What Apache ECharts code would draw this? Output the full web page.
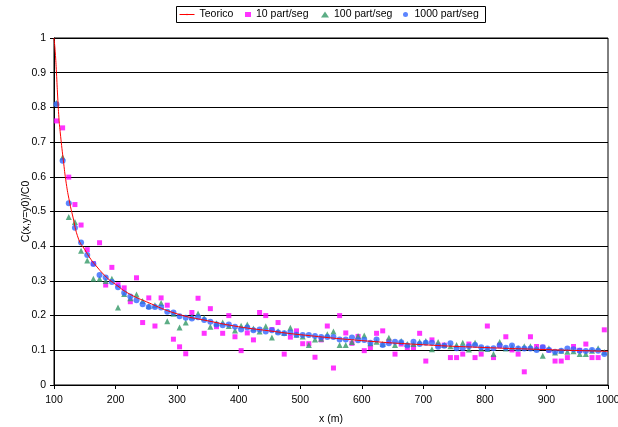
<!DOCTYPE html>
<html>
<head>
<meta charset="utf-8">
<script src="https://cdn.jsdelivr.net/npm/echarts@6/dist/echarts.min.js"></script>
<style>
html,body{margin:0;padding:0;background:#fff;}
#chart{width:618px;height:427px;}
</style>
</head>
<body>
<div id="chart"></div>
<script>
// Teorico curve
var teoX = [100,102,104,106,108,110,115,120,125,130,140,150,160,170,180,190,200,220,250,300,350,400,450,500,600,700,800,900,1000];
var teoY = [1.0,0.96,0.90,0.83,0.77,0.73,0.65,0.58,0.53,0.49,0.42,0.39,0.362,0.34,0.32,0.303,0.29,0.265,0.24,0.205,0.185,0.168,0.156,0.145,0.128,0.116,0.108,0.102,0.097];

// measurement x positions (m)
var xs = [104,114,124,134,144,154,164,174,184,194,
          204,214,224,234,244,254,264,274,284,294,
          304,314,324,334,344,354,364,374,384,394,
          404,414,424,434,444,454,464,474,484,494,
          504,514,524,534,544,554,564,574,584,594,
          604,614,624,634,644,654,664,674,684,694,
          704,714,724,734,744,754,764,774,784,794,
          804,814,824,834,844,854,864,874,884,894,
          904,914,924,934,944,954,964,974,984,994];

var m10 = [0.761,0.741,0.599,0.520,0.461,0.390,0.350,0.410,0.288,0.339,
           0.289,0.280,0.240,0.309,0.180,0.251,0.170,0.251,0.230,0.132,
           0.110,0.090,0.209,0.250,0.149,0.220,0.168,0.149,0.200,0.139,
           0.099,0.150,0.130,0.209,0.200,0.160,0.180,0.089,0.138,0.156,
           0.119,0.119,0.080,0.130,0.170,0.049,0.200,0.150,0.120,0.140,
           0.099,0.108,0.149,0.156,0.126,0.089,0.118,0.108,0.108,0.149,
           0.069,0.130,0.115,0.115,0.079,0.079,0.089,0.118,0.079,0.089,
           0.170,0.079,0.115,0.139,0.101,0.089,0.038,0.139,0.111,0.109,
           0.100,0.069,0.069,0.079,0.111,0.100,0.118,0.079,0.079,0.159];

var m100 = [0.813,0.656,0.484,0.470,0.387,0.359,0.306,0.306,0.300,0.306,
            0.223,0.262,0.250,0.261,0.242,0.228,0.230,0.236,0.184,0.205,
            0.166,0.180,0.197,0.206,0.193,0.168,0.178,0.180,0.170,0.157,
            0.171,0.174,0.163,0.154,0.169,0.137,0.155,0.150,0.165,0.145,
            0.140,0.115,0.131,0.133,0.146,0.154,0.115,0.115,0.124,0.141,
            0.143,0.120,0.125,0.118,0.136,0.115,0.127,0.118,0.118,0.125,
            0.127,0.103,0.124,0.115,0.112,0.115,0.122,0.102,0.122,0.105,
            0.104,0.089,0.124,0.105,0.110,0.106,0.112,0.112,0.106,0.084,
            0.106,0.094,0.099,0.096,0.097,0.089,0.089,0.099,0.106,0.095];

var m1000 = [0.809,0.646,0.524,0.453,0.411,0.375,0.349,0.317,0.310,0.297,
             0.282,0.266,0.255,0.244,0.233,0.225,0.225,0.223,0.211,0.209,
             0.198,0.194,0.192,0.195,0.187,0.182,0.174,0.172,0.174,0.168,
             0.160,0.166,0.158,0.160,0.154,0.158,0.151,0.149,0.151,0.145,
             0.144,0.144,0.141,0.138,0.138,0.138,0.131,0.131,0.137,0.129,
             0.130,0.122,0.131,0.115,0.120,0.125,0.123,0.114,0.125,0.118,
             0.122,0.122,0.110,0.113,0.120,0.106,0.106,0.112,0.115,0.109,
             0.105,0.106,0.114,0.107,0.114,0.105,0.105,0.105,0.101,0.109,
             0.101,0.096,0.099,0.105,0.103,0.099,0.098,0.101,0.099,0.089];

var xTicks = [100,200,300,400,500,600,700,800,900,1000];
var yTicks = [0,0.1,0.2,0.3,0.4,0.5,0.6,0.7,0.8,0.9,1];

function pairs(xa, ya){ return xa.map(function(x,i){ return [x, ya[i]]; }); }

var FONT = 'Liberation Sans, Arial, sans-serif';
var FS = 10.5;
var chart = echarts.init(document.getElementById('chart'), null, {renderer:'canvas'});
function leg(name, left, w, h){
  return {data:[name], left:left, top:9, itemWidth:w, itemHeight:h, itemGap:0, padding:0,
          lineStyle:{width:1}, symbolRotate:0,
          textStyle:{fontFamily:FONT, fontSize:FS, color:'#000'}, selectedMode:false};
}
chart.setOption({
  animation:false,
  backgroundColor:'#fff',
  grid:{left:54, right:10, top:38, bottom:42, containLabel:false, outerBoundsMode:'none',
        show:true, borderColor:'#000', borderWidth:1, backgroundColor:'transparent'},
  legend:[
    leg('Teorico',179,15,2),
    leg('10 part/seg',245,6,5),
    leg('100 part/seg',321,8,6),
    leg('1000 part/seg',403,8,5)
  ],
  graphic:[{type:'rect', shape:{x:176.5, y:6.5, width:309, height:16}, style:{fill:'none', stroke:'#000', lineWidth:1}, z:-1}],
  xAxis:{type:'value', min:100, max:1000, interval:100,
    name:'x (m)', nameLocation:'middle', nameGap:29, nameMoveOverlap:false,
    nameTextStyle:{fontFamily:FONT, fontSize:FS, color:'#000'},
    axisLine:{lineStyle:{color:'#000', width:1}},
    axisTick:{show:true, length:4, inside:false, lineStyle:{color:'#000'}},
    axisLabel:{fontFamily:FONT, fontSize:FS, color:'#000', margin:10,
      formatter:function(v){ return String(Math.round(v)); }},
    splitLine:{show:false}},
  yAxis:{type:'value', min:0, max:1, interval:0.1,
    name:'C(x,y=y0)/C0', nameLocation:'middle', nameGap:22, nameMoveOverlap:false,
    nameTextStyle:{fontFamily:FONT, fontSize:FS, color:'#000'},
    axisLine:{show:true, lineStyle:{color:'#000', width:1}},
    axisTick:{show:true, length:4, lineStyle:{color:'#000'}},
    axisLabel:{fontFamily:FONT, fontSize:FS, color:'#000', margin:8,
      formatter:function(v){ return String(Math.round(v*10)/10); }},
    splitLine:{show:true, lineStyle:{color:'#000', width:1}}},
  series:[
    {name:'Teorico', type:'line', data:pairs(teoX, teoY), smooth:true, symbol:'none',
     lineStyle:{color:'#FF0000', width:1}, itemStyle:{color:'#FF0000'}},
    {name:'10 part/seg', type:'scatter', data:pairs(xs, m10), symbol:'rect', symbolSize:5,
     itemStyle:{color:'#FF00FF'}},
    {name:'100 part/seg', type:'scatter', data:pairs(xs, m100), symbol:'triangle', symbolSize:6,
     itemStyle:{color:'#339966'}},
    {name:'1000 part/seg', type:'scatter', data:pairs(xs, m1000), symbol:'circle', symbolSize:6,
     itemStyle:{color:'#3366FF'}}
  ]
});
</script>
</body>
</html>
